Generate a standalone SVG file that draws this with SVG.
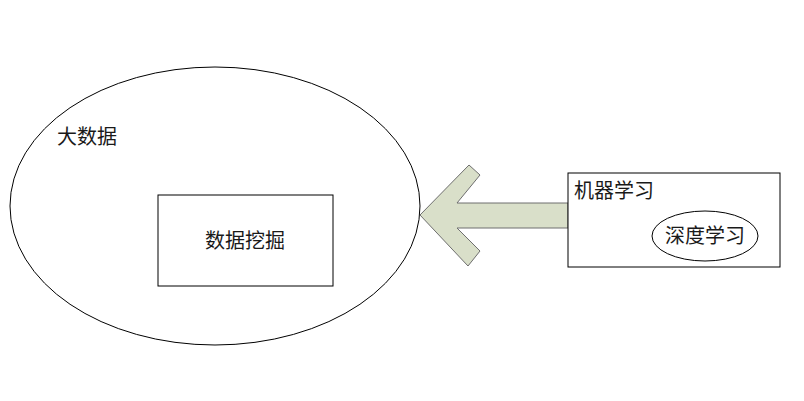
<svg xmlns="http://www.w3.org/2000/svg" width="804" height="401" viewBox="0 0 804 401">
<style>
.s{fill:#fff;stroke:#000;stroke-width:1}
.t{font-family:"Liberation Sans","Noto Sans CJK SC",sans-serif;font-size:20px;fill:#1a1a1a}
</style>
<rect width="804" height="401" fill="#fff"/>
<g id="bigdata"><ellipse class="s" cx="215" cy="206" rx="205" ry="139"/><text class="t" x="57" y="144">大数据</text></g>
<g id="mining"><rect class="s" x="158" y="195" width="175" height="91"/><text class="t" x="245" y="248" text-anchor="middle">数据挖掘</text></g>
<g id="connectors"><polygon points="420,215 469,165 480,175 457,203 568,203 568,228 457,228 480,251 468,266" fill="#d9dfc9" stroke="#6e6e6e" stroke-width="1"/></g>
<g id="ml"><rect class="s" x="568" y="173" width="212" height="94"/><text class="t" x="574" y="198">机器学习</text></g>
<g id="dl"><ellipse class="s" cx="705" cy="236" rx="53" ry="25"/><text class="t" x="705" y="243" text-anchor="middle">深度学习</text></g>
</svg>
